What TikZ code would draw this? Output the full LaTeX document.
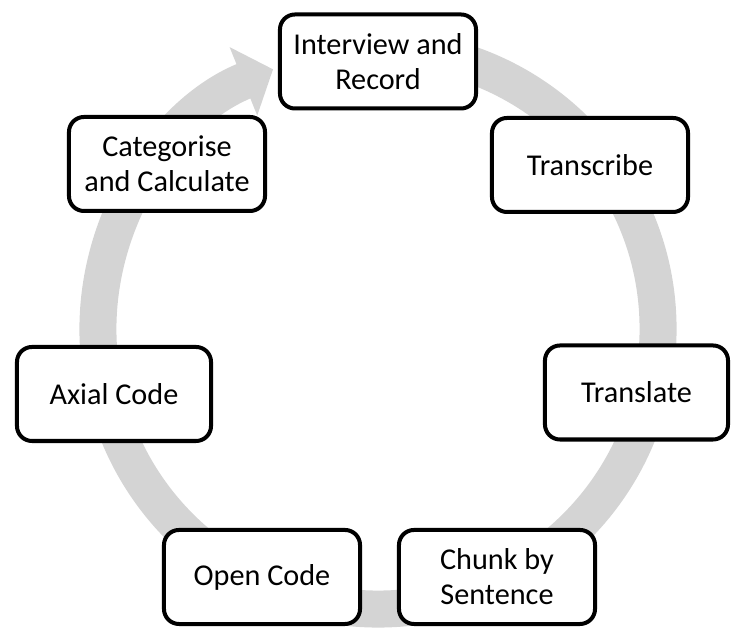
\documentclass[tikz,border=0pt]{standalone}
\usepackage{fontspec}
\setmainfont{Carlito}
\usetikzlibrary{arrows.meta}
\definecolor{ringgray}{RGB}{212,212,212}
\tikzset{
	stage/.style={draw,line width=0.1cm,rounded corners=0.375cm,fill=white,
		minimum width=4.9cm,minimum height=2.35cm,inner sep=0pt,align=center,
		font=\fontsize{21.5}{25}\selectfont}
}
\begin{document}
\begin{tikzpicture}[x=0.025cm,y=0.025cm]
	\useasboundingbox (0,0) rectangle (732,628);
	\coordinate (c) at (378,299);
	% the ring runs clockwise behind the boxes
	\draw[ringgray,line width=0.925cm,-{Triangle[length=0.8cm,width=1.8cm]}]
	([shift={(88:7cm)}]c) arc (88:-248:7cm);
	\node[stage] at (378,566.5) (interview) {Interview and\\Record};
	\node[stage] at (590,463) (transcribe) {Transcribe};
	\node[stage,minimum width=4.575cm] at (636.5,235.5) (translate) {Translate};
	\node[stage] at (497,51) (chunk) {Chunk by\\Sentence};
	\node[stage] at (262,51) (open) {Open Code};
	\node[stage,minimum width=4.85cm] at (114,234) (axial) {Axial Code};
	\node[stage] at (167,464) (categorise) {Categorise\\and Calculate};
\end{tikzpicture}
\end{document}
